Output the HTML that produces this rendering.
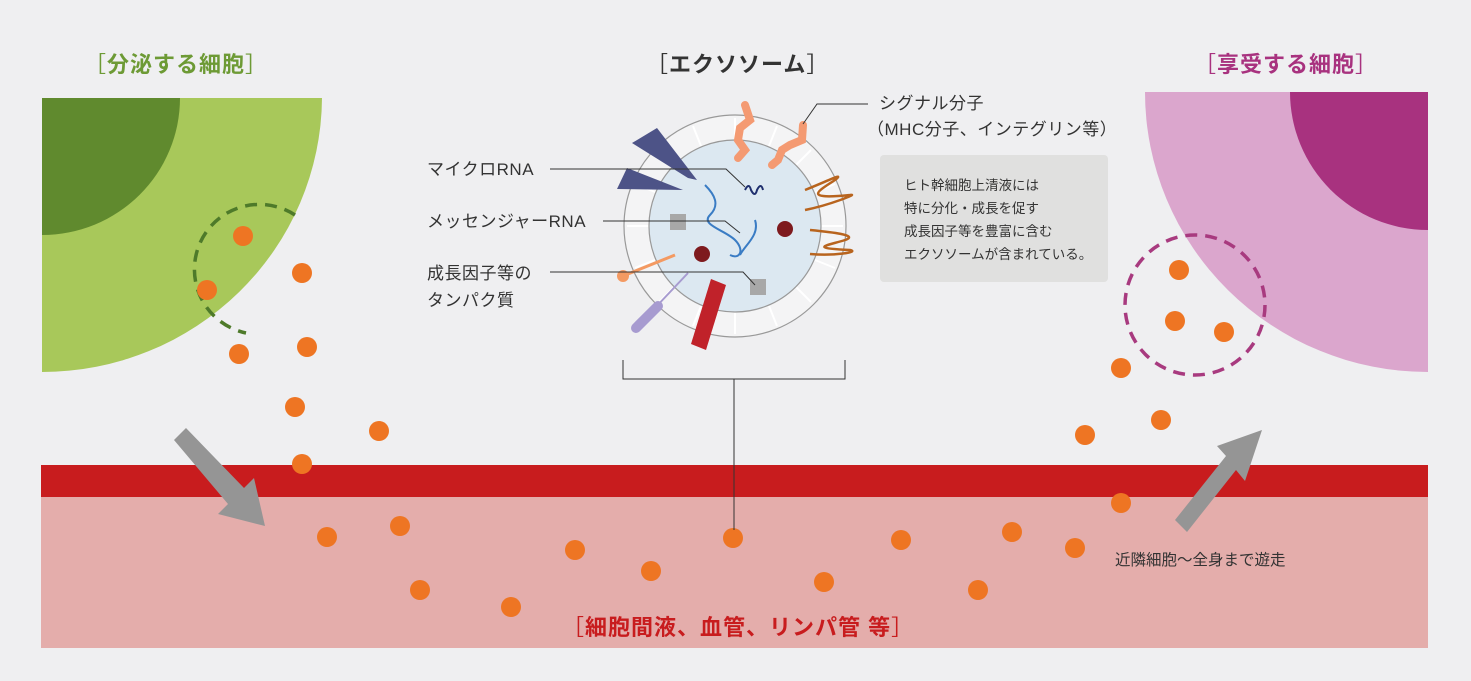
<!DOCTYPE html>
<html><head><meta charset="utf-8"><style>
html,body{margin:0;padding:0;background:#efeff1}
svg{display:block}
text{font-family:"Liberation Sans","Noto Sans CJK JP",sans-serif}
</style></head><body>
<svg width="1471" height="681" viewBox="0 0 1471 681" xmlns="http://www.w3.org/2000/svg">
<rect width="1471" height="681" fill="#efeff1"/>
<rect x="41" y="465" width="1387" height="33" fill="#c81c1e"/>
<rect x="41" y="497" width="1387" height="151" fill="#e4adab"/>
<path d="M42 98 L322 98 A280 276 0 0 1 42 372 Z" fill="#a8c85a"/>
<path d="M42 98 L180 98 A138 137 0 0 1 42 235 Z" fill="#608a2e"/>
<path d="M295 215 A65 65 0 1 0 246 333" fill="none" stroke="#4e7a2a" stroke-width="3.5" stroke-dasharray="12 8"/>
<path d="M1428 92 L1428 372 A283 280 0 0 1 1145 92 Z" fill="#dba6cd"/>
<path d="M1428 92 L1428 230 A138 138 0 0 1 1290 92 Z" fill="#a8327f"/>
<circle cx="1195" cy="305" r="70" fill="none" stroke="#a83a7f" stroke-width="3.5" stroke-dasharray="12 8"/>
<g fill="#959595">
<polygon points="174,440 186,428 244,488 254,478 265,526 218,514 228,504"/>
<polygon points="1175,520 1187,532 1236,470 1245,481 1262,430 1217,446 1226,456"/>
</g>
<g fill="#ee7523">
<circle cx="243" cy="236" r="10"/><circle cx="302" cy="273" r="10"/><circle cx="207" cy="290" r="10"/>
<circle cx="239" cy="354" r="10"/><circle cx="307" cy="347" r="10"/><circle cx="295" cy="407" r="10"/>
<circle cx="379" cy="431" r="10"/><circle cx="302" cy="464" r="10"/><circle cx="327" cy="537" r="10"/>
<circle cx="400" cy="526" r="10"/><circle cx="420" cy="590" r="10"/><circle cx="511" cy="607" r="10"/>
<circle cx="575" cy="550" r="10"/><circle cx="651" cy="571" r="10"/><circle cx="733" cy="538" r="10"/>
<circle cx="824" cy="582" r="10"/><circle cx="901" cy="540" r="10"/><circle cx="978" cy="590" r="10"/>
<circle cx="1012" cy="532" r="10"/><circle cx="1075" cy="548" r="10"/><circle cx="1121" cy="503" r="10"/>
<circle cx="1085" cy="435" r="10"/><circle cx="1161" cy="420" r="10"/><circle cx="1121" cy="368" r="10"/>
<circle cx="1179" cy="270" r="10"/><circle cx="1175" cy="321" r="10"/><circle cx="1224" cy="332" r="10"/>
</g>
<circle cx="735" cy="226" r="111" fill="#f4f4f5" stroke="#999" stroke-width="1.2"/>
<g stroke="#fff" stroke-width="2">
<path d="M735 118 V140 M735 312 V334 M627 226 H649 M821 226 H843 M659 150 L674 165 M796 287 L811 302 M811 150 L796 165 M674 287 L659 302 M693 126 L701 146 M769 306 L777 326 M777 126 L769 146 M701 306 L693 326 M635 184 L655 192 M815 260 L835 268 M835 184 L815 192 M655 260 L635 268"/>
</g>
<circle cx="735" cy="226" r="86" fill="#dce8f1" stroke="#999" stroke-width="1.2"/>
<polygon points="632,143 688,178 697,180 657,128" fill="#4d5387"/>
<polygon points="617,189 683,190 627,168" fill="#4d5387"/>
<path d="M705 185 C715 195 720 205 710 215 C700 225 725 230 735 240 C745 250 740 260 730 255" fill="none" stroke="#3a7cc4" stroke-width="2"/>
<path d="M755 220 C760 235 745 245 740 255" fill="none" stroke="#3a7cc4" stroke-width="2"/>
<path d="M745 190 q4 -8 6 0 q4 8 6 0 q4 -8 6 0" fill="none" stroke="#1f2f6e" stroke-width="2"/>
<rect x="670" y="214" width="16" height="16" fill="#a8a8a8"/>
<rect x="750" y="279" width="16" height="16" fill="#a8a8a8"/>
<circle cx="702" cy="254" r="8" fill="#7e1a1e"/>
<circle cx="785" cy="229" r="8" fill="#7e1a1e"/>
<line x1="623" y1="276" x2="675" y2="255" stroke="#f49a62" stroke-width="3"/>
<circle cx="623" cy="276" r="6" fill="#f49a62"/>
<line x1="636" y1="328" x2="688" y2="273" stroke="#a79bd0" stroke-width="2"/>
<path d="M636 328 L658 306" stroke="#a79bd0" stroke-width="10" stroke-linecap="round"/>
<polygon points="691,344 706,350 726,285 711,279" fill="#c0222a"/>
<g fill="none" stroke="#b8641e" stroke-width="2.5">
<path d="M805 190 C830 180 845 172 835 180 C820 190 800 200 850 195 C860 193 830 205 805 210"/>
<path d="M810 230 C830 232 860 235 845 240 C830 245 805 248 850 250 C860 252 835 256 810 254"/>
</g>
<g stroke="#f49a72" stroke-width="8" stroke-linecap="round" fill="none">
<path d="M745 105 L750 120 L740 128 L738 140 L745 150 L738 158"/>
<path d="M803 125 L802 140 L790 145 L782 150 L778 160 L772 165"/>
</g>
<g stroke="#333" stroke-width="1" fill="none">
<polyline points="550,169 726,169 745,187"/>
<polyline points="603,221 725,221 740,233"/>
<polyline points="550,272 743,272 755,285"/>
<polyline points="868,104 817,104 803,124"/>
<polyline points="623,360 623,379 845,379 845,360"/>
<line x1="734" y1="379" x2="734" y2="530"/>
</g>
<rect x="880" y="155" width="228" height="127" rx="4" fill="#e0e0df"/>
<g font-size="13.5" fill="#333">
<text x="904" y="190">ヒト幹細胞上清液には</text>
<text x="904" y="213">特に分化・成長を促す</text>
<text x="904" y="236">成長因子等を豊富に含む</text>
<text x="904" y="259">エクソソームが含まれている。</text>
</g>
<g font-size="17" fill="#333" letter-spacing="0.5">
<text x="427" y="175">マイクロRNA</text>
<text x="427" y="227">メッセンジャーRNA</text>
<text x="427" y="279">成長因子等の</text>
<text x="427" y="306">タンパク質</text>
<text x="879" y="109">シグナル分子</text>
<text x="867" y="135">（MHC分子、インテグリン等）</text>
</g>
<text x="1115" y="565" font-size="15.5" fill="#333">近隣細胞～全身まで遊走</text>
<g font-size="22" font-weight="bold" letter-spacing="1">
<text x="84" y="72" fill="#6d9a35"><tspan font-weight="normal">［</tspan>分泌する細胞<tspan font-weight="normal">］</tspan></text>
<text x="646" y="72" fill="#333"><tspan font-weight="normal">［</tspan>エクソソーム<tspan font-weight="normal">］</tspan></text>
<text x="1194" y="72" fill="#a8327f"><tspan font-weight="normal">［</tspan>享受する細胞<tspan font-weight="normal">］</tspan></text>
<text x="562" y="635" fill="#c81c1e"><tspan font-weight="normal">［</tspan>細胞間液、血管、リンパ管 等<tspan font-weight="normal">］</tspan></text>
</g>
</svg>
</body></html>
